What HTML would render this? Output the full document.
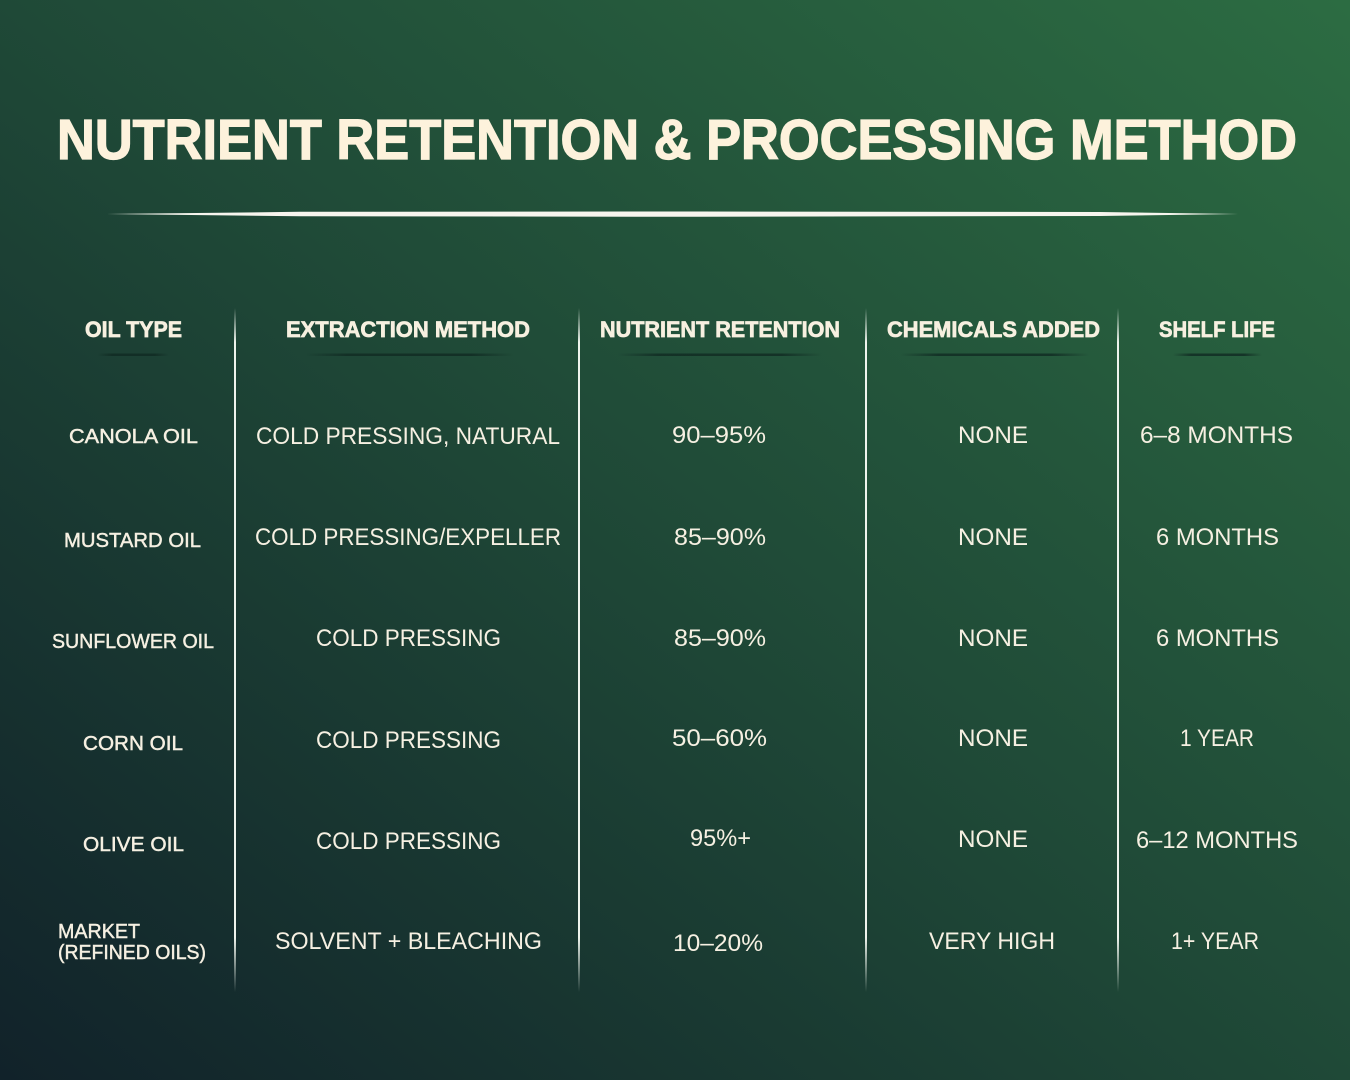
<!DOCTYPE html>
<html><head><meta charset="utf-8"><style>
html,body{margin:0;padding:0;width:1350px;height:1080px;overflow:hidden;background:#1e4736}
svg{display:block}
.t{font-family:"Liberation Sans",sans-serif;font-weight:bold;fill:#fdf2dc;stroke:#fdf2dc;stroke-width:1.3px}
.h{font-family:"Liberation Sans",sans-serif;font-weight:bold;font-size:22px;fill:#f7f0e0;stroke:#f7f0e0;stroke-width:0.7px}
.d{font-family:"Liberation Sans",sans-serif;font-size:24px;fill:#f6f0e2}
.r{font-family:"Liberation Sans",sans-serif;font-size:20px;fill:#f6f0e2;stroke:#f6f0e2;stroke-width:0.45px}
</style></head><body>
<svg width="1350" height="1080" viewBox="0 0 1350 1080" xmlns="http://www.w3.org/2000/svg">
<defs>
<linearGradient id="bg" x1="1" y1="0" x2="0" y2="1">
<stop offset="0" stop-color="#2c6c42"/>
<stop offset="0.5" stop-color="#1f4937"/>
<stop offset="1" stop-color="#11222a"/>
</linearGradient>
<linearGradient id="vl" x1="0" y1="0" x2="0" y2="1">
<stop offset="0" stop-color="#eef3ec" stop-opacity="0"/>
<stop offset="0.05" stop-color="#eef3ec" stop-opacity="1"/>
<stop offset="0.92" stop-color="#eef3ec" stop-opacity="1"/>
<stop offset="1" stop-color="#eef3ec" stop-opacity="0"/>
</linearGradient>
<linearGradient id="ul" x1="0" y1="0" x2="1" y2="0">
<stop offset="0" stop-color="#102a22" stop-opacity="0"/>
<stop offset="0.2" stop-color="#102a22" stop-opacity="0.8"/>
<stop offset="0.8" stop-color="#102a22" stop-opacity="0.8"/>
<stop offset="1" stop-color="#102a22" stop-opacity="0"/>
</linearGradient>
</defs>
<rect x="0" y="0" width="1350" height="1080" fill="url(#bg)"/>

<text class="t" x="57" y="159" font-size="57" textLength="1240" lengthAdjust="spacingAndGlyphs">NUTRIENT RETENTION &amp; PROCESSING METHOD</text>

<polygon points="107,214 300,211.8 700,211.5 1100,212 1238,214 1100,216 700,216.8 300,216.3" fill="#f7f5ee"/>

<!-- vertical lines -->
<rect x="234" y="308" width="2" height="684" fill="url(#vl)"/>
<rect x="578" y="308" width="2" height="684" fill="url(#vl)"/>
<rect x="865" y="308" width="2" height="684" fill="url(#vl)"/>
<rect x="1117" y="308" width="2" height="684" fill="url(#vl)"/>

<!-- headers -->
<text class="h" x="85" y="337" textLength="97" lengthAdjust="spacingAndGlyphs">OIL TYPE</text>
<text class="h" x="286" y="337" textLength="244" lengthAdjust="spacingAndGlyphs">EXTRACTION METHOD</text>
<text class="h" x="600" y="337" textLength="240" lengthAdjust="spacingAndGlyphs">NUTRIENT RETENTION</text>
<text class="h" x="887" y="337" textLength="213" lengthAdjust="spacingAndGlyphs">CHEMICALS ADDED</text>
<text class="h" x="1159" y="337" textLength="116" lengthAdjust="spacingAndGlyphs">SHELF LIFE</text>

<rect x="98" y="353.5" width="71" height="2.5" fill="url(#ul)"/>
<rect x="306" y="353.5" width="207" height="2.5" fill="url(#ul)"/>
<rect x="618" y="353.5" width="204" height="2.5" fill="url(#ul)"/>
<rect x="901" y="353.5" width="188" height="2.5" fill="url(#ul)"/>
<rect x="1173" y="353.5" width="89" height="2.5" fill="url(#ul)"/>

<!-- row labels -->
<text class="r" x="69" y="443" textLength="129" lengthAdjust="spacingAndGlyphs">CANOLA OIL</text>
<text class="r" x="64" y="547" textLength="137" lengthAdjust="spacingAndGlyphs">MUSTARD OIL</text>
<text class="r" x="52" y="648" textLength="162" lengthAdjust="spacingAndGlyphs">SUNFLOWER OIL</text>
<text class="r" x="83" y="750" textLength="100" lengthAdjust="spacingAndGlyphs">CORN OIL</text>
<text class="r" x="83" y="851" textLength="101" lengthAdjust="spacingAndGlyphs">OLIVE OIL</text>
<text class="r" x="58" y="938" textLength="82" lengthAdjust="spacingAndGlyphs">MARKET</text>
<text class="r" x="58" y="959" textLength="148" lengthAdjust="spacingAndGlyphs">(REFINED OILS)</text>

<!-- extraction -->
<text class="d" x="256" y="444" textLength="304" lengthAdjust="spacingAndGlyphs">COLD PRESSING, NATURAL</text>
<text class="d" x="255" y="545" textLength="306" lengthAdjust="spacingAndGlyphs">COLD PRESSING/EXPELLER</text>
<text class="d" x="316" y="646" textLength="185" lengthAdjust="spacingAndGlyphs">COLD PRESSING</text>
<text class="d" x="316" y="748" textLength="185" lengthAdjust="spacingAndGlyphs">COLD PRESSING</text>
<text class="d" x="316" y="849" textLength="185" lengthAdjust="spacingAndGlyphs">COLD PRESSING</text>
<text class="d" x="275" y="949" textLength="267" lengthAdjust="spacingAndGlyphs">SOLVENT + BLEACHING</text>

<!-- nutrient -->
<text class="d" x="672" y="443" textLength="94" lengthAdjust="spacingAndGlyphs">90–95%</text>
<text class="d" x="674" y="545" textLength="92" lengthAdjust="spacingAndGlyphs">85–90%</text>
<text class="d" x="674" y="646" textLength="92" lengthAdjust="spacingAndGlyphs">85–90%</text>
<text class="d" x="672" y="746" textLength="95" lengthAdjust="spacingAndGlyphs">50–60%</text>
<text class="d" x="690" y="846" textLength="61" lengthAdjust="spacingAndGlyphs">95%+</text>
<text class="d" x="673" y="951" textLength="90" lengthAdjust="spacingAndGlyphs">10–20%</text>

<!-- chemicals -->
<text class="d" x="958" y="443" textLength="70" lengthAdjust="spacingAndGlyphs">NONE</text>
<text class="d" x="958" y="545" textLength="70" lengthAdjust="spacingAndGlyphs">NONE</text>
<text class="d" x="958" y="646" textLength="70" lengthAdjust="spacingAndGlyphs">NONE</text>
<text class="d" x="958" y="746" textLength="70" lengthAdjust="spacingAndGlyphs">NONE</text>
<text class="d" x="958" y="847" textLength="70" lengthAdjust="spacingAndGlyphs">NONE</text>
<text class="d" x="929" y="949" textLength="126" lengthAdjust="spacingAndGlyphs">VERY HIGH</text>

<!-- shelf -->
<text class="d" x="1140" y="443" textLength="153" lengthAdjust="spacingAndGlyphs">6–8 MONTHS</text>
<text class="d" x="1156" y="545" textLength="123" lengthAdjust="spacingAndGlyphs">6 MONTHS</text>
<text class="d" x="1156" y="646" textLength="123" lengthAdjust="spacingAndGlyphs">6 MONTHS</text>
<text class="d" x="1180" y="746" textLength="74" lengthAdjust="spacingAndGlyphs">1 YEAR</text>
<text class="d" x="1136" y="848" textLength="162" lengthAdjust="spacingAndGlyphs">6–12 MONTHS</text>
<text class="d" x="1171" y="949" textLength="88" lengthAdjust="spacingAndGlyphs">1+ YEAR</text>
</svg>
</body></html>
